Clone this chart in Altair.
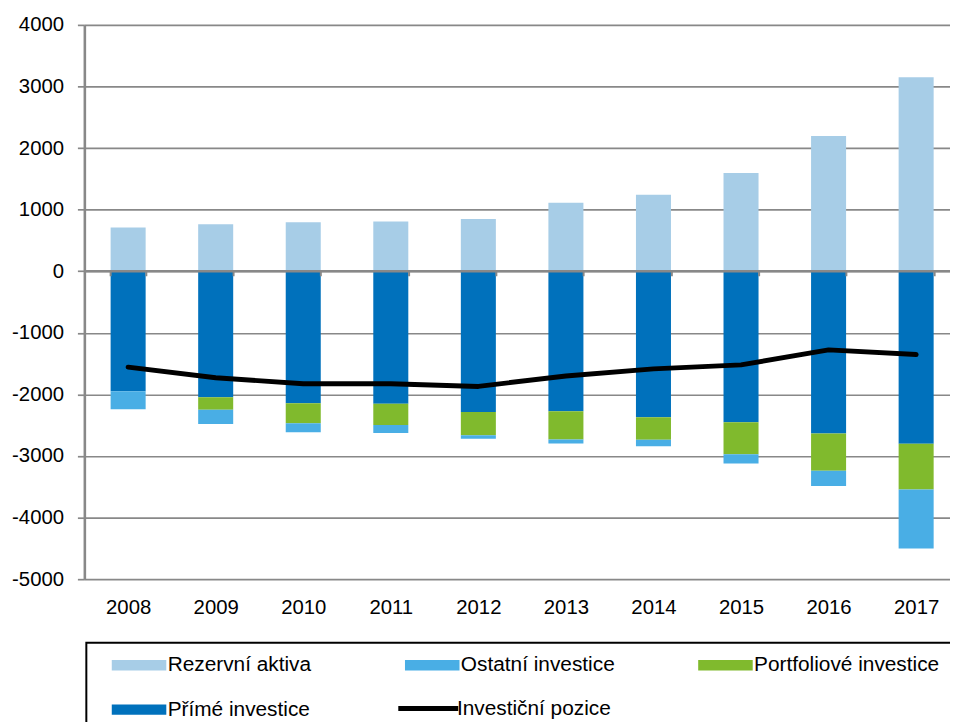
import altair as alt
import pandas as pd

roky = ["2008", "2009", "2010", "2011", "2012", "2013", "2014", "2015", "2016", "2017"]
rezervni_aktiva = [710, 763, 795, 806, 850, 1113, 1242, 1597, 2194, 3150]
prime_investice = [-1950, -2048, -2145, -2150, -2285, -2275, -2370, -2450, -2635, -2800]
portfoliove_investice = [0, -202, -325, -347, -380, -455, -365, -520, -605, -745]
ostatni_investice = [-290, -232, -145, -128, -55, -65, -105, -150, -245, -955]
investicni_pozice = [-1557, -1730, -1826, -1826, -1870, -1700, -1585, -1520, -1277, -1353]

serie_sloupce = ["Rezervní aktiva", "Ostatní investice", "Portfoliové investice",
                 "Přímé investice"]
barvy = ["#A7CDE7", "#49AEE5", "#80BA2D", "#0071BC"]
LINE = "Investiční pozice"
poradi = {"Rezervní aktiva": 0, "Přímé investice": 1,
          "Portfoliové investice": 2, "Ostatní investice": 3}

rows = []
for name, vals in [("Rezervní aktiva", rezervni_aktiva),
                   ("Přímé investice", prime_investice),
                   ("Portfoliové investice", portfoliove_investice),
                   ("Ostatní investice", ostatni_investice)]:
    for r, v in zip(roky, vals):
        rows.append({"rok": r, "serie": name, "hodnota": v, "poradi": poradi[name]})
bars_df = pd.DataFrame(rows)
line_df = pd.DataFrame({"rok": roky, "hodnota": investicni_pozice,
                        "serie": [LINE] * len(roky)})

FONT = "Liberation Sans"
GRAY = "#888888"
NB = "\u00a0" * 4
RECT = "M-5.0,-0.95L5.0,-0.95L5.0,0.95L-5.0,0.95Z"
HLINE = "M-5.5,0L5.5,0"

x_enc = alt.X(
    "rok:O", title=None, sort=roky,
    scale=alt.Scale(paddingInner=0.6, paddingOuter=0.3, range=[0, 883]),
    axis=alt.Axis(orient="bottom", offset=-311, labelAngle=0, tickBand="extent",
                  ticks=True, tickSize=5, tickColor=GRAY, tickWidth=2,
                  domainColor=GRAY, domainWidth=2.6, labelPadding=325,
                  labelFontSize=20.5, labelFont=FONT, labelColor="black",
                  zindex=1, grid=False),
)

y_axis = alt.Axis(values=list(range(-5000, 4001, 1000)), labelExpr="'' + datum.value",
                  grid=True, gridColor=GRAY, gridWidth=1.7, domainColor=GRAY,
                  domainWidth=2.6, tickColor=GRAY, tickSize=7, tickWidth=1.7,
                  labelPadding=14, labelFontSize=20.5, labelFont=FONT,
                  labelColor="black")
y_scale = alt.Scale(domain=[-5000, 4000], nice=False, zero=False)

bar_legend = alt.Legend(
    title=None, orient="none", legendX=2, legendY=623, columns=3,
    direction="horizontal", gridAlign="all", columnPadding=38.7, rowPadding=23,
    padding=12, strokeColor="black", symbolType=RECT, symbolSize=121,
    symbolOffset=30.65, symbolStrokeWidth=0, symbolOpacity=1,
    labelOffset=18.35, labelFontSize=21, labelFont=FONT, labelColor="black",
    labelLimit=500, labelExpr="datum.label + '" + NB + "'",
)

line_legend = alt.Legend(
    title=None, orient="none", legendX=305.7, legendY=679,
    padding=0, symbolType=HLINE, symbolSize=121, symbolOffset=30.65,
    symbolStrokeWidth=5, symbolStrokeColor="black", symbolOpacity=1,
    labelOffset=18.35, labelFontSize=21, labelFont=FONT, labelColor="black",
    labelLimit=500,
)

bars = alt.Chart(bars_df).mark_bar().encode(
    x=x_enc,
    y=alt.Y("hodnota:Q", stack="zero", title=None, scale=y_scale, axis=y_axis),
    fill=alt.Fill("serie:N", scale=alt.Scale(domain=serie_sloupce, range=barvy),
                  legend=bar_legend),
    order=alt.Order("poradi:Q"),
)

line = alt.Chart(line_df).mark_line(strokeWidth=5, strokeCap="round", strokeJoin="round").encode(
    x=x_enc,
    y=alt.Y("hodnota:Q", title=None, scale=y_scale, axis=y_axis),
    stroke=alt.Stroke("serie:N", scale=alt.Scale(domain=[LINE], range=["#000000"]),
                      legend=line_legend),
)

chart = alt.layer(bars, line).properties(
    width=873, height=559,
    autosize=alt.AutoSizeParams(type="none"),
    padding={"left": 77, "top": 14, "right": 0, "bottom": 141},
    background="white",
).configure_view(strokeWidth=0).configure_legend(strokeWidth=2)

chart.save("out.html", embed_options={"renderer": "svg", "actions": False})
